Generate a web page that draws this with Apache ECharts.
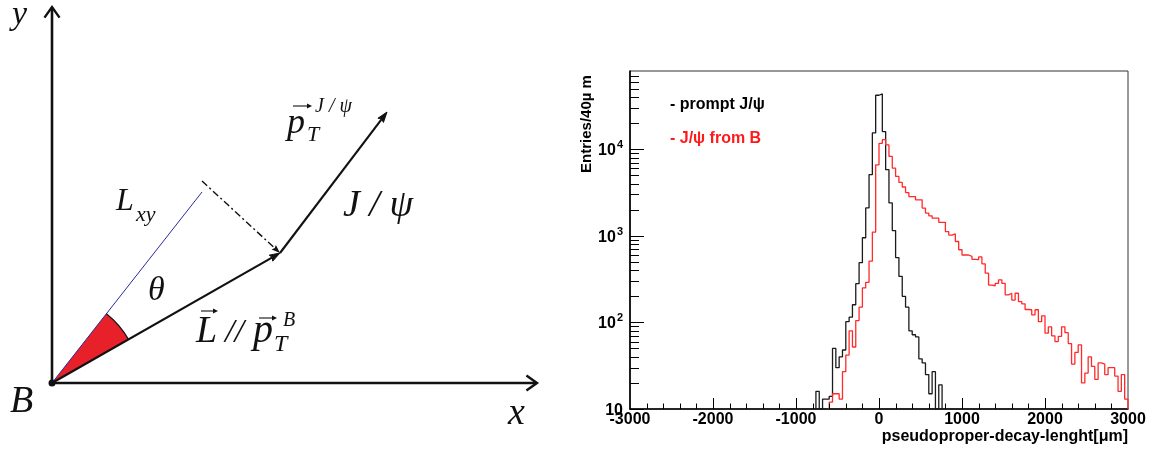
<!DOCTYPE html>
<html>
<head>
<meta charset="utf-8">
<script src="https://cdn.jsdelivr.net/npm/echarts@6/dist/echarts.min.js"></script>
<style>
  html, body { margin: 0; padding: 0; background: #fff; }
  #chart { width: 1150px; height: 449px; }
</style>
</head>
<body>
<div id="chart"></div>
<script>
// ---------- Histogram: pseudoproper decay length, 40 µm bins ----------
const binWidth = 40;
const xMin = -3000, xMax = 3000, xInterval = 1000, xMinorStep = 200;
const yMin = 10, yMax = 80000;

// prompt J/psi: consecutive bins starting at promptStart (µm)
const promptStart = -760;
const promptCounts = [
  16, 10, 13, 13, 14, 50, 30, 40, 48, 102,
  115, 160, 280, 490, 950, 2100, 5100, 15400, 42000, 43500,
  16000, 5800, 2400, 1150, 560, 340, 200, 150, 80, 72,
  68, 38, 34, 25, 15, 27, 10, 19
];

// J/psi from B decays: consecutive bins starting at fromBStart (µm)
const fromBStart = -600;
const fromBCounts = [
  12, 15, 15, 13, 27, 42, 80, 52, 105, 150,
  250, 290, 510, 1100, 6600, 11700, 12900, 11200, 8260, 6040,
  4850, 4130, 3660, 3160, 2840, 2840, 2600, 2600, 2090, 1830,
  1700, 1600, 1600, 1430, 1430, 1120, 1020, 1050, 860, 690,
  600, 600, 580, 535, 530, 570, 475, 370, 270, 265,
  283, 310, 283, 208, 217, 181, 217, 174, 164, 141,
  140, 122, 140, 102, 119, 75, 89, 70, 60, 69,
  89, 76, 57, 33, 45, 55, 20, 26, 40, 31,
  22, 34, 33, 25, 30, 30, 24, 16, 25, 13
];

// ---------- Kinematics sketch (units: px-like, B vertex at origin, y up) ----------
const vertexB = [0, 0];
const xAxisTip = [485, 0];
const yAxisTip = [0, 376];
const flightTip = [228, 130];      // L // pT(B)
const jpsiTip = [335, 271];        // pT(J/psi), starting at the flight tip
const lxyTip = [150, 191];
const projectionStart = [150, 202];
const thetaRadius = 88;

const sketchSegments = [
  { from: vertexB, to: xAxisTip, kind: 'axis' },
  { from: vertexB, to: yAxisTip, kind: 'axis' },
  { from: vertexB, to: lxyTip, kind: 'lxy' },
  { from: projectionStart, to: flightTip, kind: 'proj' },
  { from: vertexB, to: flightTip, kind: 'vector' },
  { from: flightTip, to: jpsiTip, kind: 'vector' }
];

// ---------- helpers ----------
function stepPoints(start, counts) {
  const pts = [[start, yMin]];
  counts.forEach((c, i) => pts.push([start + i * binWidth, Math.max(c, yMin)]));
  const end = start + counts.length * binWidth;
  pts.push([end, Math.max(counts[counts.length - 1], yMin)]);
  pts.push([end, yMin]);
  return pts;
}

// log-axis ticks: 1..9 x 10^e (flag 1 marks the decades)
const yTickValues = [];
for (let e = 1; e <= 4; e++) {
  for (let m = 1; m <= 9; m++) {
    const v = m * Math.pow(10, e);
    if (v < yMax) yTickValues.push([xMin, v, m === 1 ? 1 : 0]);
  }
}
// linear-axis ticks every 200 µm (flag 1 marks the labelled ones)
const xTickValues = [];
for (let v = xMin + xMinorStep; v < xMax; v += xMinorStep) {
  xTickValues.push([v, yMin, v % xInterval === 0 ? 1 : 0]);
}

const sans = '"Liberation Sans", Arial, Helvetica, sans-serif';
const serif = '"Liberation Serif", "DejaVu Serif", serif';
const ink = '#111';

function headPoints(p0, p1, len, half) {
  const a = Math.atan2(p1[1] - p0[1], p1[0] - p0[0]);
  return {
    w1: [p1[0] - len * Math.cos(a - half), p1[1] - len * Math.sin(a - half)],
    w2: [p1[0] - len * Math.cos(a + half), p1[1] - len * Math.sin(a + half)],
    base: [p1[0] - len * 0.8 * Math.cos(a), p1[1] - len * 0.8 * Math.sin(a)]
  };
}

function renderSegment(params, api) {
  const seg = sketchSegments[params.dataIndex];
  const p0 = api.coord(seg.from);
  const p1 = api.coord(seg.to);
  const children = [];
  if (seg.kind === 'axis') {
    const h = headPoints(p0, p1, 13, 0.62);
    children.push({ type: 'line', shape: { x1: p0[0], y1: p0[1], x2: p1[0], y2: p1[1] },
      style: { stroke: ink, lineWidth: 2.6 } });
    children.push({ type: 'polyline', shape: { points: [h.w1, p1, h.w2] },
      style: { stroke: ink, lineWidth: 2.4, fill: null, lineJoin: 'miter' } });
  } else if (seg.kind === 'vector') {
    const h = headPoints(p0, p1, 11, 0.32);
    children.push({ type: 'line', shape: { x1: p0[0], y1: p0[1], x2: h.base[0], y2: h.base[1] },
      style: { stroke: ink, lineWidth: 2.1 } });
    children.push({ type: 'polygon', shape: { points: [p1, h.w1, h.base, h.w2] },
      style: { fill: ink, stroke: ink, lineWidth: 1 } });
  } else if (seg.kind === 'proj') {
    const h = headPoints(p0, p1, 9, 0.35);
    children.push({ type: 'line', shape: { x1: p0[0], y1: p0[1], x2: h.base[0], y2: h.base[1] },
      style: { stroke: ink, lineWidth: 1.4, lineDash: [7, 3, 2, 3] } });
    children.push({ type: 'polygon', shape: { points: [p1, h.w1, h.base, h.w2] },
      style: { fill: ink } });
  } else {
    children.push({ type: 'line', shape: { x1: p0[0], y1: p0[1], x2: p1[0], y2: p1[1] },
      style: { stroke: '#2a2a9c', lineWidth: 1 } });
  }
  return { type: 'group', children: children };
}

function renderTheta(params, api) {
  const c = api.coord(vertexB);
  const pL = api.coord(flightTip);
  const pX = api.coord(lxyTip);
  const r = api.size([thetaRadius, 0])[0];
  const a1 = Math.atan2(pX[1] - c[1], pX[0] - c[0]);
  const a2 = Math.atan2(pL[1] - c[1], pL[0] - c[0]);
  return {
    type: 'group',
    children: [
      { type: 'sector', shape: { cx: c[0], cy: c[1], r0: 0, r: r, startAngle: a1, endAngle: a2, clockwise: true },
        style: { fill: '#e8202a' } },
      { type: 'arc', shape: { cx: c[0], cy: c[1], r: r, startAngle: a1, endAngle: a2, clockwise: true },
        style: { stroke: ink, lineWidth: 1.2, fill: null } },
      { type: 'circle', shape: { cx: c[0], cy: c[1], r: 3.5 }, style: { fill: ink }, z2: 10 }
    ]
  };
}

function renderYTicks(params, api) {
  const p = api.coord([api.value(0), api.value(1)]);
  const len = api.value(2) ? 14 : 9;
  const y = Math.round(p[1]) + 0.5;
  return { type: 'line', shape: { x1: p[0], y1: y, x2: p[0] + len, y2: y },
    style: { stroke: '#000', lineWidth: 1 } };
}

function renderXTicks(params, api) {
  const p = api.coord([api.value(0), api.value(1)]);
  const len = api.value(2) ? 11 : 5.5;
  const x = Math.round(p[0]) + 0.5;
  return { type: 'line', shape: { x1: x, y1: p[1], x2: x, y2: p[1] - len },
    style: { stroke: '#000', lineWidth: 1 } };
}

// italic math-style text, positioned by its baseline
function mathText(str, size, left, baseline) {
  return { type: 'text', x: left, y: baseline - 0.34 * size, silent: true,
    style: { text: str, font: 'italic ' + size + 'px ' + serif, fill: ink, verticalAlign: 'middle', align: 'left' } };
}
// small vector arrow over a symbol
function overArrow(x1, x2, y) {
  return { type: 'group', silent: true, children: [
    { type: 'line', shape: { x1: x1, y1: y, x2: x2 - 3, y2: y }, style: { stroke: ink, lineWidth: 1.1 } },
    { type: 'polygon', shape: { points: [[x2, y], [x2 - 5, y - 2.4], [x2 - 5, y + 2.4]] }, style: { fill: ink } }
  ] };
}

const chart = echarts.init(document.getElementById('chart'), null, { renderer: 'canvas' });

chart.setOption({
  animation: false,
  backgroundColor: '#fff',
  grid: [
    { left: 0, top: 0, width: 560, height: 449, show: false },
    { left: 630, right: 22, top: 71, bottom: 40, show: true, borderColor: '#333', borderWidth: 1, backgroundColor: 'transparent' }
  ],
  xAxis: [
    { gridIndex: 0, type: 'value', min: -52, max: 508, show: false },
    {
      gridIndex: 1, type: 'value', min: xMin, max: xMax, interval: xInterval,
      axisLine: { onZero: false, lineStyle: { color: '#000', width: 1.6 } },
      axisTick: { show: false },
      splitLine: { show: false },
      axisLabel: { margin: 3, color: '#000', fontFamily: sans, fontWeight: 'bold', fontSize: 16,
        showMinLabel: true, showMaxLabel: true, formatter: v => String(v) },
      name: 'pseudoproper-decay-lenght[\u03bcm]',
      nameLocation: 'end', nameGap: 0,
      nameTextStyle: { color: '#000', fontFamily: sans, fontWeight: 'bold', fontSize: 16, align: 'right', verticalAlign: 'top', padding: [20, 0, 0, 0] }
    }
  ],
  yAxis: [
    { gridIndex: 0, type: 'value', min: -66, max: 383, show: false },
    {
      gridIndex: 1, type: 'log', logBase: 10, min: yMin, max: yMax,
      axisLine: { onZero: false, lineStyle: { color: '#000', width: 1.6 } },
      axisTick: { show: false },
      splitLine: { show: false },
      axisLabel: {
        margin: 7, showMaxLabel: false,
        formatter: function (v) {
          const e = Math.round(Math.log10(v));
          if (Math.abs(Math.log10(v) - e) > 1e-6) return '';
          return e === 1 ? '{b|10}' : '{b|10}{s|' + e + '}';
        },
        rich: {
          b: { fontFamily: sans, fontWeight: 'bold', fontSize: 16, color: '#000', lineHeight: 19, verticalAlign: 'bottom' },
          s: { fontFamily: sans, fontWeight: 'bold', fontSize: 11, color: '#000', verticalAlign: 'top', padding: [0, 0, 0, 1] }
        }
      }
    }
  ],
  series: [
    {
      name: 'theta', type: 'custom', xAxisIndex: 0, yAxisIndex: 0, clip: false,
      data: [[vertexB[0], vertexB[1]]], renderItem: renderTheta, silent: true, z: 1
    },
    {
      name: 'sketch', type: 'custom', xAxisIndex: 0, yAxisIndex: 0, clip: false,
      encode: { x: [0, 2], y: [1, 3] },
      data: sketchSegments.map(s => [s.from[0], s.from[1], s.to[0], s.to[1]]),
      renderItem: renderSegment, silent: true, z: 2
    },
    {
      name: 'prompt J/\u03c8', type: 'line', xAxisIndex: 1, yAxisIndex: 1, step: 'end',
      showSymbol: false, symbol: 'none', data: stepPoints(promptStart, promptCounts),
      lineStyle: { color: '#1a1a1a', width: 1.3 }, z: 3
    },
    {
      name: 'J/\u03c8 from B', type: 'line', xAxisIndex: 1, yAxisIndex: 1, step: 'end',
      showSymbol: false, symbol: 'none', data: stepPoints(fromBStart, fromBCounts),
      lineStyle: { color: '#ff2a2a', width: 1.3 }, z: 4
    },
    {
      name: 'yTicks', type: 'custom', xAxisIndex: 1, yAxisIndex: 1, clip: false,
      data: yTickValues, renderItem: renderYTicks, silent: true, z: 5
    },
    {
      name: 'xTicks', type: 'custom', xAxisIndex: 1, yAxisIndex: 1, clip: false,
      data: xTickValues, renderItem: renderXTicks, silent: true, z: 5
    }
  ],
  graphic: [
    // histogram legend and y title
    { type: 'text', left: 670, top: 97, silent: true,
      style: { text: '- prompt J/\u03c8', font: 'bold 16px ' + sans, fill: '#000' } },
    { type: 'text', left: 670, top: 131, silent: true,
      style: { text: '- J/\u03c8 from B', font: 'bold 16px ' + sans, fill: '#ff1a1a' } },
    { type: 'text', x: 587, y: 124, rotation: Math.PI / 2, silent: true,
      style: { text: 'Entries/40\u00b5 m', font: 'bold 15px ' + sans, fill: '#000', align: 'center', verticalAlign: 'middle' } },
    // sketch annotations
    mathText('y', 34, 12, 27),
    mathText('x', 38, 508, 427),
    mathText('B', 38, 10, 415),
    mathText('\u03b8', 34, 148, 303),
    mathText('L', 32, 116, 212),
    mathText('xy', 22, 136, 223),
    mathText('J / \u03c8', 38, 343, 219),
    mathText('p', 36, 287, 136),
    overArrow(293, 312, 106),
    mathText('T', 22, 307, 143),
    mathText('J / \u03c8', 20, 315, 114),
    mathText('L', 38, 196, 345),
    overArrow(201, 218, 311),
    mathText('//', 34, 225, 345),
    mathText('p', 40, 253, 345),
    overArrow(259, 277, 318),
    mathText('T', 24, 274, 353),
    mathText('B', 20, 283, 328)
  ]
});
</script>
</body>
</html>
